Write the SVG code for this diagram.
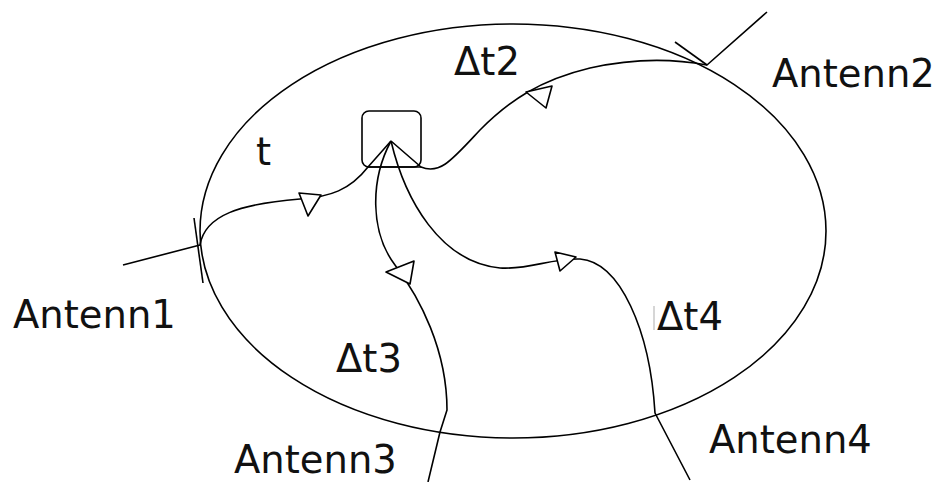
<svg xmlns="http://www.w3.org/2000/svg" width="938" height="482" viewBox="0 0 938 482">
  <style>
    .ln { fill: none; stroke: #000; stroke-width: 1.6; stroke-linejoin: round; }
    .ah { fill: #fff; stroke: #000; stroke-width: 1.6; stroke-linejoin: round; }
    .lbl { font-family: "DejaVu Sans", sans-serif; font-size: 38.5px; fill: #111; }
  </style>
  <rect width="938" height="482" fill="#fff"/>

  <!-- coverage area -->
  <g id="area">
    <ellipse class="ln" cx="513" cy="231" rx="313" ry="207"/>
  </g>

  <!-- mobile device -->
  <g id="device">
    <rect class="ln" x="362" y="111" width="59" height="56" rx="7"/>
    <line class="ln" x1="368" y1="167" x2="421" y2="167"/>
  </g>

  <!-- signal paths -->
  <g id="connectors">
    <!-- Antenn1 -->
    <path class="ln" d="M123,265 L200,245 C205,215 240,204 300,199 C330,197 350,190 368,167 L391,141"/>
    <path class="ln" d="M194,218 L203,283"/>
    <polygon class="ah" points="299,193 321,195 308,216"/>
    <!-- Antenn2 -->
    <path class="ln" d="M391,141 L421,167 C440,175 452,160 480,130 C510,100 540,80 590,68 C630,59 670,58 707,65 L767,12"/>
    <path class="ln" d="M675,42 L707,65"/>
    <polygon class="ah" points="526,92 552,86 546,108"/>
    <!-- Antenn3 -->
    <path class="ln" d="M391,141 C370,180 370,232 395,265 C420,298 447,350 447,410 L440,432 L428,482"/>
    <polygon class="ah" points="386,272 414,261 410,284"/>
    <!-- Antenn4 -->
    <path class="ln" d="M391,141 C405,200 440,262 500,268 C530,270 550,258 580,259 C620,262 650,330 655,413 L690,480"/>
    <polygon class="ah" points="555,252 576,257 560,271"/>
  </g>

  <!-- labels -->
  <g id="labels">
    <text class="lbl" x="256" y="165">t</text>
    <text class="lbl" x="454" y="75">Δt2</text>
    <text class="lbl" x="336" y="372">Δt3</text>
    <line x1="654" y1="306" x2="654" y2="330" stroke="#bbb" stroke-width="1.2"/>
    <text class="lbl" x="657" y="330">Δt4</text>
  </g>
  <g id="antenn1"><text class="lbl" x="13" y="328">Antenn1</text></g>
  <g id="antenn2"><text class="lbl" x="772" y="87">Antenn2</text></g>
  <g id="antenn3"><text class="lbl" x="234" y="473">Antenn3</text></g>
  <g id="antenn4"><text class="lbl" x="709" y="453">Antenn4</text></g>
</svg>
